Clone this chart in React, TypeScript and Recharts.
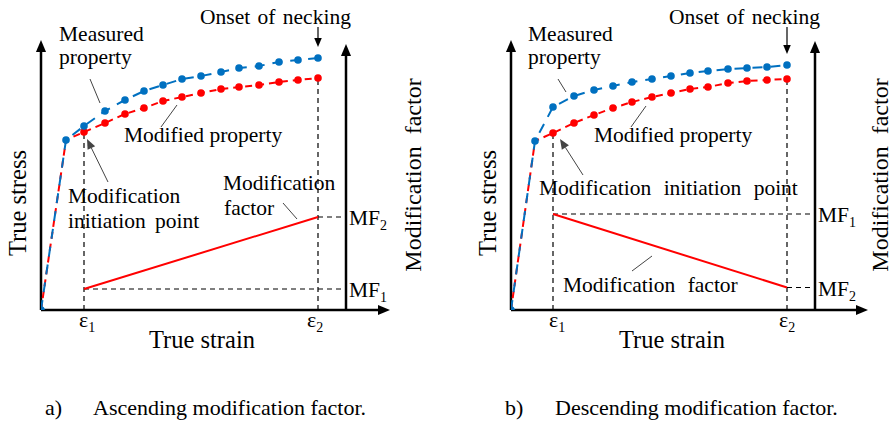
import { ComposedChart, Line, XAxis, YAxis, ReferenceLine, ReferenceDot } from "recharts";

const FONT = "Liberation Serif, Times New Roman, serif";
const BLUE = "#0070c0";
const RED = "#ff0000";

// panel a - ascending modification factor
const strainA = [0.043, 0.064, 0.084, 0.103, 0.122, 0.141, 0.16, 0.18, 0.198, 0.218, 0.238, 0.257, 0.277];
const measuredA = [368, 398, 420, 438, 450, 462, 468, 476, 484, 488, 496, 500, 504];
const modifiedA = [356, 374, 392, 404, 418, 426, 434, 442, 446, 450, 456, 460, 464];
const yieldA = { x: 0.025, y: 340 };
const mfA = [0.21, 0.93]; // MF at eps1, eps2

// panel b - descending modification factor
const strainB = [0.042, 0.063, 0.083, 0.102, 0.121, 0.141, 0.16, 0.179, 0.197, 0.217, 0.236, 0.256, 0.276];
const measuredB = [406, 428, 440, 448, 456, 462, 468, 474, 478, 482, 484, 486, 490];
const modifiedB = [354, 374, 390, 404, 416, 426, 434, 442, 446, 454, 458, 460, 462];
const yieldB = { x: 0.024, y: 338 };
const mfB = [0.96, 0.225];

type Pt = { x: number; y: number };
type Note = {
  x: number;
  y: number;
  text: string;
  sub?: string;
  anchor?: "start" | "middle" | "end";
  size?: number;
  rotate?: boolean;
  mf?: boolean;
  dy?: number;
  spacing?: number;
};
type Seg = { a: Pt; b: Pt; head?: number; w?: number; dash?: string; color?: string; mf?: boolean };

const curve = (y0: Pt, strain: number[], stress: number[]): Pt[] => [
  { x: 0, y: 0 },
  y0,
  ...strain.map((x, i) => ({ x, y: stress[i] })),
];

const arrowShape = (s: Seg) => (p: any) => {
  const { x1, y1, x2, y2 } = p;
  const head = s.head ?? 0;
  const ang = Math.atan2(y2 - y1, x2 - x1);
  const hx = x2 - head * Math.cos(ang);
  const hy = y2 - head * Math.sin(ang);
  const half = head * 0.42;
  const c = s.color ?? "#000";
  return (
    <g>
      <line x1={x1} y1={y1} x2={head ? hx : x2} y2={head ? hy : y2} stroke={c} strokeWidth={s.w ?? 1} strokeDasharray={s.dash} />
      {head > 0 && (
        <polygon
          points={`${x2},${y2} ${hx - half * Math.sin(ang)},${hy + half * Math.cos(ang)} ${hx + half * Math.sin(ang)},${hy - half * Math.cos(ang)}`}
          fill={c}
        />
      )}
    </g>
  );
};

const seg = (s: Seg, i: number) => (
  <ReferenceLine
    key={"s" + i}
    yAxisId={s.mf ? "mf" : "s"}
    ifOverflow="visible"
    segment={[s.a, s.b]}
    shape={arrowShape(s)}
  />
);

const note = (n: Note, i: number) => (
  <ReferenceDot
    key={"n" + i}
    x={n.x}
    y={n.y}
    yAxisId={n.mf ? "mf" : "s"}
    r={0}
    ifOverflow="visible"
    shape={(p: any) => (
      <text
        x={p.cx}
        y={p.cy}
        dy={n.dy ?? 0}
        style={{ fontFamily: FONT, fontSize: n.size ?? 21.5, wordSpacing: n.spacing ?? 0 }}
        textAnchor={n.anchor ?? "start"}
        fill="#000"
        transform={n.rotate ? `rotate(-90 ${p.cx} ${p.cy})` : undefined}
      >
        {n.text}
        {n.sub && (
          <tspan style={{ fontSize: 14 }} dy={5}>
            {n.sub}
          </tspan>
        )}
      </text>
    )}
  />
);

const dotFn = (color: string, skip: number) => (p: any) =>
  p.index < skip ? <g key={p.key} /> : <circle key={p.key} cx={p.cx} cy={p.cy} r={3.8} fill={color} />;

type PanelProps = {
  measured: Pt[];
  modified: Pt[];
  mf: number[];
  eps: number[];
  xMax: number;
  xRight: number;
  rightTop: number;
  marginLeft: number;
  notes: Note[];
  leaders: Seg[];
};

function Panel({ measured, modified, mf, eps, xMax, xRight, rightTop, marginLeft, notes, leaders }: PanelProps) {
  const last = modified[modified.length - 1].y;
  const mfLine = [
    { x: eps[0], y: mf[0] },
    { x: eps[1], y: mf[1] },
  ];
  const guides: Seg[] = [
    { a: { x: eps[0], y: 0 }, b: { x: eps[0], y: modified[2].y - 6 }, dash: "5 4", w: 1.2 },
    { a: { x: eps[1], y: 0 }, b: { x: eps[1], y: last - 6 }, dash: "5 4", w: 1.2 },
    { a: { x: eps[0], y: mf[0] }, b: { x: xRight, y: mf[0] }, dash: "5 4", w: 1.2, mf: true },
    { a: { x: eps[1], y: mf[1] }, b: { x: xRight, y: mf[1] }, dash: "5 4", w: 1.2, mf: true },
  ];
  const axes: Seg[] = [
    { a: { x: 0, y: 0 }, b: { x: 0, y: 540 }, head: 12, w: 2.5 },
    { a: { x: 0, y: 0 }, b: { x: xMax, y: 0 }, head: 12, w: 2.5 },
    { a: { x: xRight, y: 0 }, b: { x: xRight, y: rightTop }, head: 12, w: 2.5 },
    { a: { x: eps[1], y: 566 }, b: { x: eps[1], y: measured[measured.length - 1].y + 22 }, head: 9, w: 1.2 },
  ];
  return (
    <ComposedChart width={447} height={425} margin={{ top: 40, right: 447 - marginLeft - xMax * 1000, bottom: 115, left: marginLeft }}>
      <XAxis dataKey="x" type="number" domain={[0, xMax]} hide allowDataOverflow />
      <YAxis yAxisId="s" type="number" domain={[0, 540]} hide allowDataOverflow />
      <YAxis yAxisId="mf" orientation="right" type="number" domain={[0, 2.7]} hide allowDataOverflow />
      {guides.map((g, i) => seg(g, i))}
      {axes.map((g, i) => seg(g, 10 + i))}
      {leaders.map((g, i) => seg(g, 20 + i))}
      <Line
        yAxisId="s"
        data={modified}
        dataKey="y"
        stroke={RED}
        strokeWidth={2}
        strokeDasharray="7 5"
        dot={dotFn(RED, 2)}
        isAnimationActive={false}
      />
      <Line
        yAxisId="s"
        data={measured}
        dataKey="y"
        stroke={BLUE}
        strokeWidth={2}
        strokeDasharray="10 8"
        dot={dotFn(BLUE, 0)}
        isAnimationActive={false}
      />
      <Line yAxisId="mf" data={mfLine} dataKey="y" stroke={RED} strokeWidth={2} dot={false} isAnimationActive={false} />
      {notes.map((n, i) => note(n, i))}
    </ComposedChart>
  );
}

const notesA: Note[] = [
  { x: 0.018, y: 538, text: "Measured" },
  { x: 0.018, y: 492, text: "property" },
  { x: 0.159, y: 572, text: "Onset of necking", spacing: 2 },
  { x: 0.083, y: 336, text: "Modified property" },
  { x: 0.027, y: 214, text: "Modification" },
  { x: 0.027, y: 164, text: "initiation point", spacing: 4 },
  { x: 0.182, y: 240, text: "Modification" },
  { x: 0.183, y: 190, text: "factor" },
  { x: 0.038, y: -34, text: "ε", sub: "1", size: 22 },
  { x: 0.266, y: -34, text: "ε", sub: "2", size: 22 },
  { x: 0.161, y: -76, text: "True strain", anchor: "middle", size: 24.5 },
  { x: 0.308, y: mfA[1], text: "MF", sub: "2", mf: true, dy: 8 },
  { x: 0.308, y: mfA[0], text: "MF", sub: "1", mf: true, dy: 8 },
  { x: -0.015, y: 214, text: "True stress", anchor: "middle", size: 24.5, rotate: true },
  { x: 0.38, y: 270, text: "Modification factor", anchor: "middle", size: 24, rotate: true, spacing: 6 },
  { x: 0.004, y: -210, text: "a)", size: 22 },
  { x: 0.052, y: -210, text: "Ascending modification factor.", size: 22 },
];

const leadersA: Seg[] = [
  { a: { x: 0.049, y: 462 }, b: { x: 0.059, y: 414 }, color: "#444" },
  { a: { x: 0.136, y: 410 }, b: { x: 0.12, y: 366 }, color: "#444" },
  { a: { x: 0.067, y: 256 }, b: { x: 0.046, y: 342 }, color: "#444", head: 10 },
  { a: { x: 0.242, y: 214 }, b: { x: 0.256, y: 182 }, color: "#444" },
];

const notesB: Note[] = [
  { x: 0.017, y: 538, text: "Measured" },
  { x: 0.017, y: 492, text: "property" },
  { x: 0.158, y: 572, text: "Onset of necking", spacing: 2 },
  { x: 0.083, y: 336, text: "Modified property" },
  { x: 0.028, y: 230, text: "Modification initiation point", spacing: 7 },
  { x: 0.052, y: 36, text: "Modification factor", spacing: 7 },
  { x: 0.038, y: -34, text: "ε", sub: "1", size: 22 },
  { x: 0.268, y: -34, text: "ε", sub: "2", size: 22 },
  { x: 0.161, y: -76, text: "True strain", anchor: "middle", size: 24.5 },
  { x: 0.307, y: mfB[0], text: "MF", sub: "1", mf: true, dy: 8 },
  { x: 0.307, y: mfB[1], text: "MF", sub: "2", mf: true, dy: 8 },
  { x: -0.015, y: 214, text: "True stress", anchor: "middle", size: 24.5, rotate: true },
  { x: 0.377, y: 270, text: "Modification factor", anchor: "middle", size: 24, rotate: true, spacing: 6 },
  { x: -0.006, y: -210, text: "b)", size: 22 },
  { x: 0.044, y: -210, text: "Descending modification factor.", size: 22 },
];

const leadersB: Seg[] = [
  { a: { x: 0.047, y: 462 }, b: { x: 0.055, y: 436 }, color: "#444" },
  { a: { x: 0.135, y: 408 }, b: { x: 0.12, y: 366 }, color: "#444" },
  { a: { x: 0.072, y: 270 }, b: { x: 0.049, y: 342 }, color: "#444", head: 10 },
  { a: { x: 0.141, y: 108 }, b: { x: 0.121, y: 78 }, color: "#444" },
];

export default function App() {
  return (
    <div style={{ position: "absolute", left: 0, top: 0, width: 894, height: 425, background: "#fff" }}>
      <div style={{ position: "absolute", left: 0, top: 0 }}>
        <Panel
          measured={curve(yieldA, strainA, measuredA)}
          modified={curve(yieldA, strainA, modifiedA)}
          mf={mfA}
          eps={[strainA[0], strainA[strainA.length - 1]]}
          xMax={0.349}
          xRight={0.305}
          rightTop={532}
          marginLeft={41}
          notes={notesA}
          leaders={leadersA}
        />
      </div>
      <div style={{ position: "absolute", left: 447, top: 0 }}>
        <Panel
          measured={curve(yieldB, strainB, measuredB)}
          modified={curve(yieldB, strainB, modifiedB)}
          mf={mfB}
          eps={[strainB[0], strainB[strainB.length - 1]]}
          xMax={0.357}
          xRight={0.304}
          rightTop={538}
          marginLeft={64}
          notes={notesB}
          leaders={leadersB}
        />
      </div>
    </div>
  );
}
